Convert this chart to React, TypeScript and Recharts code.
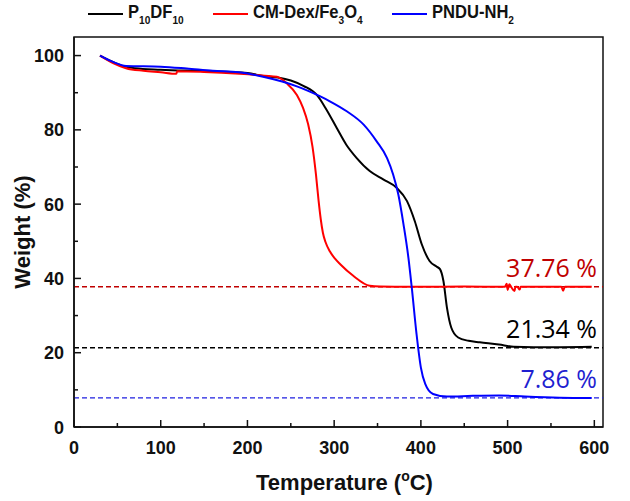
import React from 'react';
import { LineChart, Line, XAxis, YAxis, ReferenceLine, ReferenceArea, Legend } from 'recharts';

// Temperature (°C) / Weight (%) samples
const pdfTemp = [30, 40, 55, 70, 100, 150, 200, 218, 235, 250, 265, 280, 291, 303, 314, 326, 341, 357, 372, 384, 393, 401, 410, 418, 422, 426, 430, 435, 443, 455, 468, 490, 507, 530, 560, 597];
const pdfWeight = [100, 98.8, 97.3, 96.6, 96.2, 95.8, 95.3, 94.5, 94.1, 93.3, 91.8, 89.4, 85.5, 80.5, 76, 72.4, 68.9, 66.6, 64.4, 60.8, 55.4, 49.2, 44.7, 43.2, 42.5, 39.3, 32.2, 26.8, 24.1, 23.2, 22.8, 22.2, 21.6, 21.5, 21.5, 21.6];

const cmTemp = [30, 45, 60, 80, 100, 118, 119, 150, 191, 220, 234, 245, 257, 264, 270, 275, 279, 282, 284.5, 287, 290, 295, 301, 307, 322, 341, 353, 370, 400, 450, 497, 499, 500, 502, 504, 508, 509, 511, 514, 515, 517, 562, 564, 566, 597];
const cmWeight = [100, 98, 96.6, 95.9, 95.5, 95.1, 95.8, 95.6, 95.1, 94.6, 94.3, 92.6, 89.4, 86, 81.5, 75.5, 68, 61, 56, 52.3, 49.8, 47.3, 45.3, 43.8, 40.7, 38, 37.8, 37.76, 37.76, 37.8, 37.76, 38.6, 36.9, 38.4, 37.76, 36.6, 37.76, 37.76, 37.0, 37.76, 37.76, 37.76, 36.7, 37.76, 37.76];

const pnduTemp = [30, 45, 60, 100, 130, 160, 190, 218, 240, 257, 270, 284, 295, 314.5, 334, 349, 361, 368, 374, 380, 385.6, 389.5, 395, 400, 405, 414, 430, 460, 490, 520, 560, 597];
const pnduWeight = [100, 98.3, 97.2, 97, 96.5, 95.9, 95.5, 94.3, 93, 91.7, 90.5, 89, 87.7, 85, 81.4, 76.9, 72.4, 68, 62.6, 54.5, 45.6, 37.5, 25, 16, 11.6, 8.9, 8.2, 8.4, 8.5, 8.2, 7.9, 7.8];

const residues = [37.76, 21.34, 7.86];
const residueLabels = ['37.76 %', '21.34 %', '7.86 %'];
const residueLineColors = ['#c00000', '#000000', '#1f1fe0'];
const residueTextColors = ['#c00000', '#000000', '#1f1fd0'];

const seriesColors = ['#000000', '#ff0000', '#0000ff'];
const seriesNames = ['P10DF10', 'CM-Dex/Fe3O4', 'PNDU-NH2'];

const xTicks = [0, 50, 100, 150, 200, 250, 300, 350, 400, 450, 500, 550, 600];
const yTicks = [0, 10, 20, 30, 40, 50, 60, 70, 80, 90, 100];
const xDomain = [0, 610];
const yDomain = [0, 105];

const zip = (t: number[], w: number[]) => t.map((temp, i) => ({ t: temp, w: w[i] }));
const pdfData = zip(pdfTemp, pdfWeight);
const cmData = zip(cmTemp, cmWeight);
const pnduData = zip(pnduTemp, pnduWeight);

const FONT = '"Liberation Sans", Arial, sans-serif';

const XTick = (props: any) => {
  const { x, y, payload } = props;
  const major = payload.value % 100 === 0;
  return (
    <g>
      <line x1={x} y1={y} x2={x} y2={y - (major ? 7 : 4)} stroke="#111" strokeWidth={1.5} />
      {major && (
        <text x={x} y={y + 27} textAnchor="middle" fontFamily={FONT} fontWeight="bold" fontSize={18} fill="#111">
          {payload.value}
        </text>
      )}
    </g>
  );
};

const YTick = (props: any) => {
  const { x, y, payload } = props;
  const major = payload.value % 20 === 0;
  return (
    <g>
      <line x1={x} y1={y} x2={x + (major ? 7 : 4)} y2={y} stroke="#111" strokeWidth={1.5} />
      {major && (
        <text x={x - 10} y={y + 6.5} textAnchor="end" fontFamily={FONT} fontWeight="bold" fontSize={18} fill="#111">
          {payload.value}
        </text>
      )}
    </g>
  );
};

const legendParts: Array<Array<[string, boolean]>> = [
  [['P', false], ['10', true], ['DF', false], ['10', true]],
  [['CM-Dex/Fe', false], ['3', true], ['O', false], ['4', true]],
  [['PNDU-NH', false], ['2', true]],
];

const LegendContent = () => (
  <div style={{ display: 'flex', alignItems: 'center', paddingLeft: 88, fontFamily: FONT, fontWeight: 'bold', fontSize: 18, color: '#111', height: 28 }}>
    {legendParts.map((parts, i) => (
      <div key={seriesNames[i]} style={{ display: 'flex', alignItems: 'center', marginRight: i === 0 ? 24 : 20 }}>
        <div style={{ width: 35, height: 2, background: seriesColors[i], marginRight: 5 }} />
        <span style={{ whiteSpace: 'nowrap', display: 'inline-block', transform: 'scaleX(0.92)', transformOrigin: 'left center' }}>
          {parts.map(([txt, sub], j) =>
            sub ? (
              <sub key={j} style={{ fontSize: 11, verticalAlign: -6 }}>{txt}</sub>
            ) : (
              <span key={j}>{txt}</span>
            )
          )}
        </span>
      </div>
    ))}
  </div>
);

const makeResidueLabel = (i: number) => (props: any) => {
  const vb = props.viewBox || {};
  return (
    <text x={vb.x + vb.width - 6} y={vb.y - 10} textAnchor="end" fontFamily='"Open Sans", sans-serif' fontSize={25} fill={residueTextColors[i]}>
      {residueLabels[i]}
    </text>
  );
};

export default function App() {
  return (
    <div style={{ position: 'absolute', left: 0, top: 0, width: 630, height: 501, background: '#fff' }}>
      <LineChart width={630} height={501} margin={{ top: 9, right: 27, bottom: 44, left: 34 }}>
        <XAxis
          type="number"
          dataKey="t"
          domain={xDomain}
          ticks={xTicks}
          interval={0}
          allowDataOverflow
          tickSize={0}
          tickMargin={0}
          tickLine={false}
          axisLine={{ stroke: '#111', strokeWidth: 1.5 }}
          tick={<XTick />}
          height={30}
          label={(p: any) => {
            const vb = p.viewBox;
            return (
              <text x={vb.x + vb.width / 2 + 6} y={vb.y + 63} textAnchor="middle" fontFamily={FONT} fontWeight="bold" fontSize={22} fill="#111">
                Temperature (<tspan fontSize={14} dy={-9}>o</tspan><tspan dy={9}>C)</tspan>
              </text>
            );
          }}
        />
        <YAxis
          type="number"
          dataKey="w"
          domain={yDomain}
          ticks={yTicks}
          interval={0}
          allowDataOverflow
          tickSize={0}
          tickMargin={0}
          tickLine={false}
          axisLine={{ stroke: '#111', strokeWidth: 1.5 }}
          tick={<YTick />}
          width={40}
          label={(p: any) => {
            const vb = p.viewBox;
            const cx = 22;
            const cy = vb.y + vb.height / 2;
            return (
              <text x={cx} y={cy} transform={`rotate(-90 ${cx} ${cy})`} textAnchor="middle" dominantBaseline="central" fontFamily={FONT} fontWeight="bold" fontSize={22} fill="#111">
                Weight (%)
              </text>
            );
          }}
        />
        <Legend verticalAlign="top" wrapperStyle={{ top: 0, left: 0, width: 630 }} content={<LegendContent />} />
        <ReferenceArea x1={xDomain[0]} x2={xDomain[1]} y1={yDomain[0]} y2={yDomain[1]} fill="none" stroke="#111" strokeWidth={1.5} />
        {residues.map((r, i) => (
          <ReferenceLine key={r} y={r} stroke={residueLineColors[i]} strokeWidth={1.3} strokeDasharray="5 3" label={makeResidueLabel(i)} />
        ))}
        <Line data={pdfData} dataKey="w" name={seriesNames[0]} type="monotone" stroke={seriesColors[0]} strokeWidth={2} dot={false} isAnimationActive={false} />
        <Line data={cmData} dataKey="w" name={seriesNames[1]} type="monotone" stroke={seriesColors[1]} strokeWidth={2} dot={false} isAnimationActive={false} />
        <Line data={pnduData} dataKey="w" name={seriesNames[2]} type="monotone" stroke={seriesColors[2]} strokeWidth={2} dot={false} isAnimationActive={false} />
      </LineChart>
    </div>
  );
}
